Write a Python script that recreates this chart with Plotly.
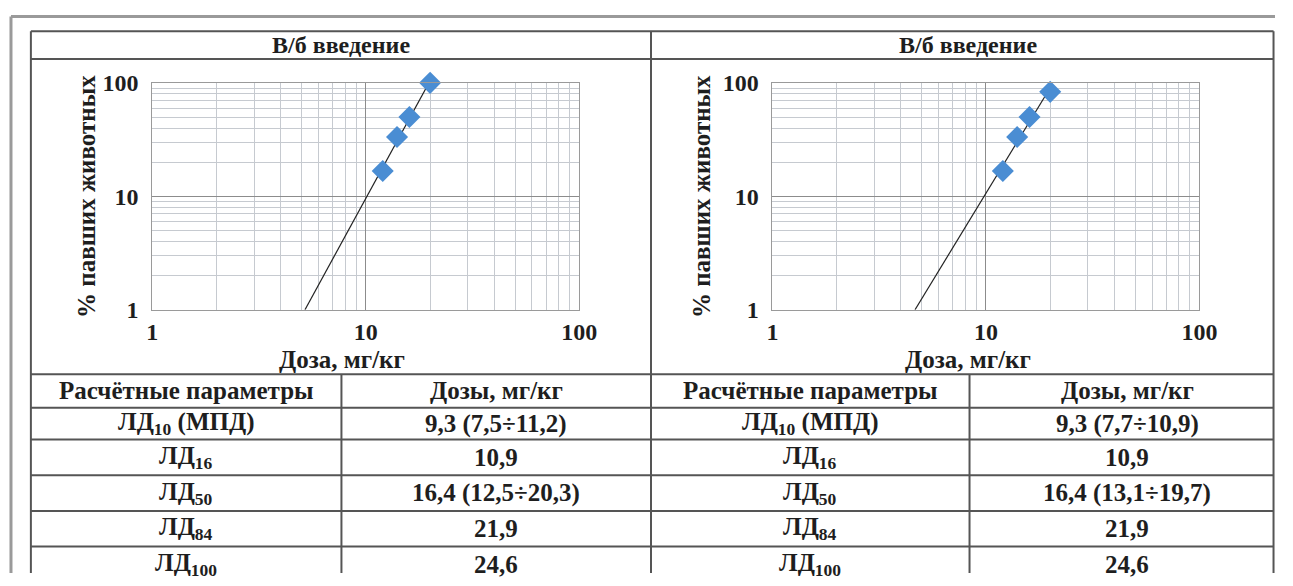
import numpy as np
import plotly.graph_objects as go

W, H = 1293, 586
# observed screenshot mapping (picture = A + S * figure px); positions below are
# given in reference-picture pixels and converted back through it
AX, SX = 4.0, 0.986
AY, SY = 10.5, 0.9645

# ---- data ----
panel_titles = ["В/б введение", "В/б введение"]
doses_left = [12, 14, 16, 20]
mortality_left = [16.7, 33.3, 50, 100]
doses_right = [12, 14, 16, 20]
mortality_right = [16.7, 33.3, 50, 83.3]
x_title = "Доза, мг/кг"
y_title = "% павших животных"
tick_vals = [1, 10, 100]
tick_text = ["1", "10", "100"]
table_header = ["Расчётные параметры", "Дозы, мг/кг"]
params = ["ЛД<sub>10</sub> (МПД)", "ЛД<sub>16</sub>", "ЛД<sub>50</sub>", "ЛД<sub>84</sub>", "ЛД<sub>100</sub>"]
table_left = ["9,3 (7,5÷11,2)", "10,9", "16,4 (12,5÷20,3)", "21,9", "24,6"]
table_right = ["9,3 (7,7÷10,9)", "10,9", "16,4 (13,1÷19,7)", "21,9", "24,6"]

FONT = "Liberation Serif"
TXT = "#1e1e1e"
MARK = "#4A8DD3"


def px(x):
    v = (x - AX) / SX / W
    return min(max(v, 0), 1)


def py(y):
    v = 1 - (y - AY) / SY / H
    return min(max(v, 0), 1)


def trend(xs, ys):
    b, a = np.polyfit(np.log10(xs), np.log10(ys), 1)
    x0 = 10 ** ((0 - a) / b)
    xx = np.array([x0, max(xs)])
    return xx, 10 ** (a + b * np.log10(xx))


fig = go.Figure()

panels = [
    dict(xs=doses_left, ys=mortality_left, x0=151, x1=580, ax="", ytx=85, xtx=342, tbl=table_left,
         cl=29, cm=341, cr=652),
    dict(xs=doses_right, ys=mortality_right, x0=774, x1=1203, ax="2", ytx=703, xtx=970, tbl=table_right,
         cl=652, cm=972, cr=1289),
]
PT, PB = 81, 310
minor_vals = [v * m for m in (1, 10) for v in range(2, 10)]

annotations = []
shapes = []
for i, p in enumerate(panels):
    xa = "x" + p["ax"]
    ya = "y" + p["ax"]
    lx, ly = trend(p["xs"], p["ys"])
    fig.add_trace(go.Scatter(x=lx, y=ly, mode="lines", line=dict(color="#222222", width=1.2),
                             xaxis=xa, yaxis=ya, showlegend=False, hoverinfo="skip"))
    fig.add_trace(go.Scatter(x=p["xs"], y=p["ys"], mode="markers",
                             marker=dict(symbol="diamond", size=17, color=MARK),
                             xaxis=xa, yaxis=ya, showlegend=False, cliponaxis=False))
    axcommon = dict(type="log", range=[0, 2], tickvals=tick_vals, ticktext=tick_text,
                    showgrid=True, gridcolor="#8c8c8c", gridwidth=1,
                    minor=dict(tickvals=minor_vals, showgrid=True, gridcolor="#c6cad0", gridwidth=1, ticklen=0),
                    showline=True, linecolor="#9a9a9a", linewidth=1, mirror=True, ticks="",
                    zeroline=False,
                    tickfont=dict(family=FONT, size=24, color=TXT, weight="bold"))
    fig.update_layout(**{
        "xaxis" + p["ax"]: dict(axcommon, domain=[px(p["x0"]), px(p["x1"])], anchor=ya, ticklabelstandoff=0),
        "yaxis" + p["ax"]: dict(axcommon, domain=[py(PB), py(PT)], anchor=xa, ticklabelstandoff=8),
    })
    annotations.append(dict(text=y_title, x=px(p["ytx"]), y=py((PT + PB) / 2), xref="paper", yref="paper",
                            showarrow=False, textangle=-90, xanchor="center", yanchor="middle",
                            font=dict(family=FONT, size=25, color=TXT, weight="bold")))
    annotations.append(dict(text=x_title, x=px(p["xtx"]), y=py(360), xref="paper", yref="paper",
                            showarrow=False, xanchor="center", yanchor="middle",
                            font=dict(family=FONT, size=25, color=TXT, weight="bold")))
    annotations.append(dict(text=panel_titles[i], x=px((p["cl"] + p["cr"]) / 2), y=py(43), xref="paper",
                            yref="paper", showarrow=False, xanchor="center", yanchor="middle",
                            font=dict(family=FONT, size=24, color=TXT, weight="bold")))
    rows_y = [375, 409, 441, 477, 513, 549, 586]
    col_a = (p["cl"] + p["cm"]) / 2
    col_b = (p["cm"] + p["cr"]) / 2
    texts = [(table_header[0], table_header[1])] + list(zip(params, p["tbl"]))
    for r, (ta, tb) in enumerate(texts):
        yc = (rows_y[r] + rows_y[r + 1]) / 2
        for xc, t in ((col_a, ta), (col_b, tb)):
            annotations.append(dict(text=t, x=px(xc), y=py(yc), xref="paper", yref="paper",
                                    showarrow=False, xanchor="center", yanchor="middle",
                                    font=dict(family=FONT, size=25, color=TXT, weight="bold")))
    shapes.append(dict(type="line", xref="paper", yref="paper", x0=px(p["cm"]), x1=px(p["cm"]),
                       y0=py(375), y1=0, line=dict(color="#555555", width=2)))

LC = "#555555"
for yy in [29, 57, 375, 409, 441, 477, 513, 549]:
    shapes.append(dict(type="line", xref="paper", yref="paper", x0=px(29), x1=min(px(1289), 1 - 1.5 / W),
                       y0=py(yy), y1=py(yy), line=dict(color=LC, width=2)))
for xx in [29, 652, 1289]:
    xv = min(px(xx), 1 - 1.5 / W)
    shapes.append(dict(type="line", xref="paper", yref="paper", x0=xv, x1=xv, y0=py(29), y1=0,
                       line=dict(color=LC, width=2)))
shapes.append(dict(type="line", xref="paper", yref="paper", x0=px(9), x1=1, y0=py(14), y1=py(14),
                   line=dict(color="#9a9a9a", width=3)))
shapes.append(dict(type="line", xref="paper", yref="paper", x0=px(9), x1=px(9), y0=py(14), y1=0,
                   line=dict(color="#9a9a9a", width=3)))

fig.update_layout(width=W, height=H, margin=dict(l=0, r=0, t=0, b=0),
                  paper_bgcolor="white", plot_bgcolor="white",
                  annotations=annotations, shapes=shapes, showlegend=False)

fig.write_html("out.html")
